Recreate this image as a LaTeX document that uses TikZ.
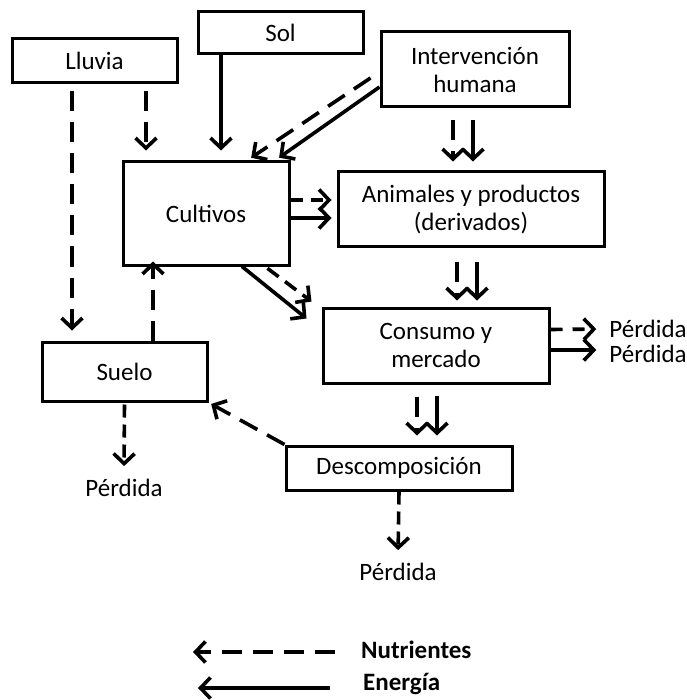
\documentclass[tikz,border=0pt]{standalone}
\usepackage{fontspec}
\setmainfont{Carlito}
\usetikzlibrary{arrows.meta}

\begin{document}
\begin{tikzpicture}
            [x=1pt, y=-1pt, line width=3.6pt, font=\fontsize{25}{28}\selectfont,
             >={Straight Barb[length=10pt,width=21pt]},
             box/.style={shape=rectangle, draw=black, line width=3pt, align=center, inner sep=0pt},
             nutr/.style={->, dash pattern=on 20pt off 11pt},
             ener/.style={->}]
            \useasboundingbox (0,0) rectangle (686,700);
            \node[box, minimum width=165pt, minimum height=44pt] (lluvia) at (94.5, 61) {Lluvia};
            \node[box, minimum width=165pt, minimum height=42pt] (sol) at (280.5, 33) {Sol};
            \node[box, minimum width=188pt, minimum height=75pt] (interv) at (475, 69.5) {Intervención\\humana};
            \node[box, minimum width=166pt, minimum height=103pt] (cultivos) at (206, 213.5) {Cultivos};
            \node[box, minimum width=266pt, minimum height=75pt] (animales) at (471, 209.5) {Animales y productos\\(derivados)};
            \node[box, minimum width=226pt, minimum height=75pt] (consumo) at (436, 345.5) {Consumo y\\mercado};
            \node[box, minimum width=226pt, minimum height=44pt] (descomp) at (399, 468) {Descomposición};
            \node[box, minimum width=165pt, minimum height=59pt] (suelo) at (124.5, 371.5) {Suelo};
            \node (perd1) at (648, 329) {Pérdida};
            \node (perd2) at (648, 354) {Pérdida};
            \node (perds) at (124, 488) {Pérdida};
            \node (perdd) at (398, 572) {Pérdida};
            \node[anchor=west, font=\fontsize{25}{28}\selectfont\bfseries] (lnutr) at (356, 650) {Nutrientes};
            \node[anchor=west, font=\fontsize{25}{28}\selectfont\bfseries] (lener) at (358, 684) {Energía};
            \coordinate (nutrend) at (193, 652);
            \coordinate (enerend) at (198, 688);

            \path [nutr, shorten <=7pt, shorten >=10pt] ([xshift=-22.5pt]lluvia.south) edge ([xshift=-52.5pt]suelo.north);
            \path [nutr, shorten <=7pt, shorten >=10pt] ([xshift=51.5pt]lluvia.south) edge ([xshift=-60pt]cultivos.north);
            \path [ener, shorten >=10pt] ([xshift=-59.5pt]sol.south) edge ([xshift=15pt]cultivos.north);
            \path [ener, shorten >=5pt] ([yshift=-17.5pt]interv.west) edge ([xshift=69pt]cultivos.north);
            \path [nutr, shorten >=5pt] ([xshift=-9pt,yshift=-8.5pt]interv.west) edge ([xshift=41pt]cultivos.north);
            \path [nutr, shorten <=12pt, shorten >=9pt] ([xshift=-22pt]interv.south) edge ([xshift=-18pt]animales.north);
            \path [ener, shorten <=12pt, shorten >=9pt] ([xshift=-2pt]interv.south) edge ([xshift=2pt]animales.north);
            \path [nutr, dash pattern=on 12pt off 8pt, shorten >=5pt] ([yshift=13.5pt]cultivos.east) edge ([yshift=9.5pt]animales.west);
            \path [ener, shorten >=5pt] ([yshift=-4.5pt]cultivos.east) edge ([yshift=-8.5pt]animales.west);
            \path [ener] ([xshift=36pt]cultivos.south) edge ([xshift=-15pt,yshift=-12pt]consumo.north west);
            \path [nutr, dash pattern=on 14pt off 8pt, shorten <=3pt] ([xshift=59pt]cultivos.south) edge ([xshift=-10pt,yshift=5pt]consumo.north west);
            \path [nutr, shorten <=13pt, shorten >=6pt] ([xshift=-14pt]animales.south) edge ([xshift=21pt]consumo.north);
            \path [ener, shorten <=13pt, shorten >=6pt] ([xshift=6pt]animales.south) edge ([xshift=41pt]consumo.north);
            \path [nutr, dash pattern=on 12pt off 10pt, shorten >=8pt] ([yshift=16pt]consumo.east) edge (perd1.west);
            \path [ener, shorten >=8pt] ([yshift=-4.5pt]consumo.east) edge ([yshift=4pt]perd2.west);
            \path [nutr, shorten <=12pt, shorten >=9pt] ([xshift=-19pt]consumo.south) edge ([xshift=18pt]descomp.north);
            \path [ener, shorten <=11pt, shorten >=9pt] ([xshift=1pt]consumo.south) edge ([xshift=38pt]descomp.north);
            \path [nutr, shorten >=3pt] (descomp.north west) edge (suelo.south east);
            \path [nutr, shorten >=-5pt] ([xshift=28.5pt]suelo.north) edge ([xshift=-53pt]cultivos.south);
            \path [nutr, dash pattern=on 13pt off 7pt, shorten <=2pt, shorten >=8pt] (suelo.south) edge (perds.north);
            \path [nutr, dash pattern=on 13pt off 7pt, shorten >=8pt] (descomp.south) edge (perdd.north);
            \path [nutr] ([xshift=-21pt,yshift=-2pt]lnutr.west) edge (nutrend);
            \path [ener] ([xshift=-28pt,yshift=-4pt]lener.west) edge (enerend);
        \end{tikzpicture}
\end{document}
